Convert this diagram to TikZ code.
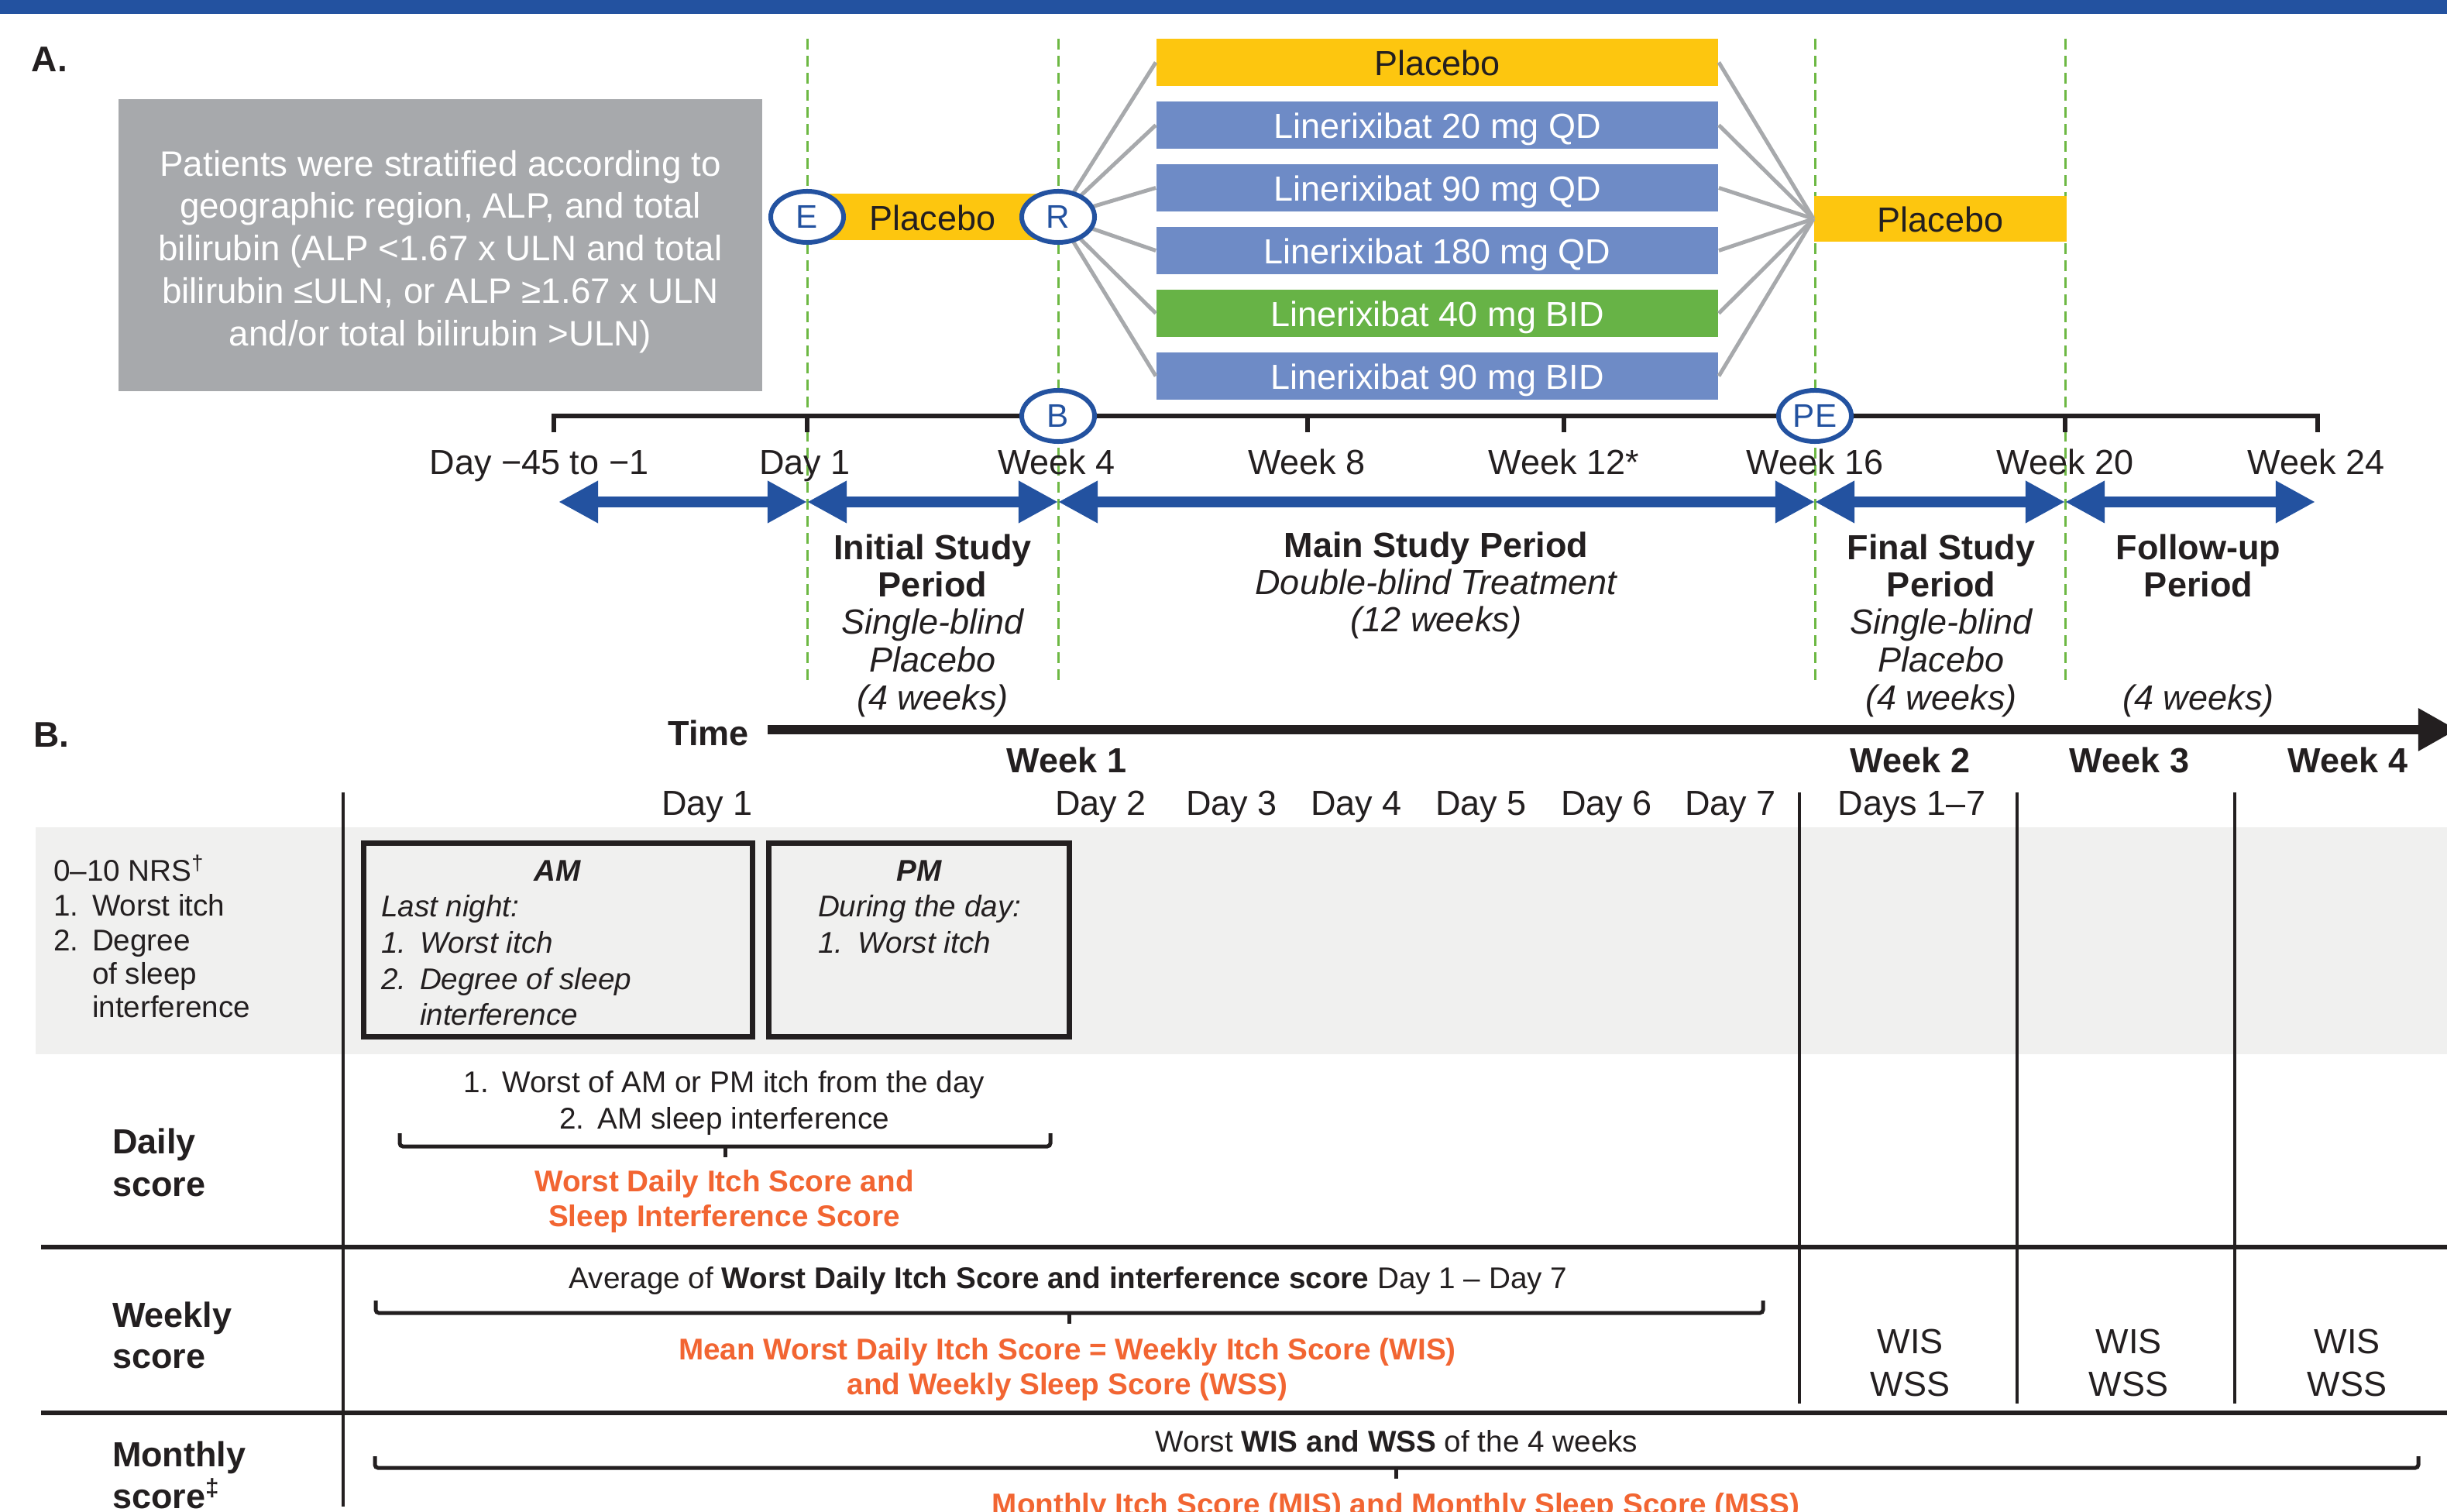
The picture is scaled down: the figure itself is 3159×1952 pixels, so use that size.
\documentclass[tikz,border=0pt]{standalone}
\usepackage{fontspec}
\setmainfont{Liberation Sans}
\usetikzlibrary{arrows.meta,shapes.geometric}
\definecolor{hblue}{HTML}{2352A0}
\definecolor{byel}{HTML}{FDC60F}
\definecolor{bblue}{HTML}{6E8BC6}
\definecolor{bgreen}{HTML}{67B346}
\definecolor{sgray}{HTML}{A7A9AC}
\definecolor{dgreen}{HTML}{6DB843}
\definecolor{bandc}{HTML}{F0F0EF}
\definecolor{orng}{HTML}{F26532}
\definecolor{ink}{HTML}{231F20}
\newcommand\fA{\fontsize{12.8}{15.5}\selectfont}
\newcommand\fG{\fontsize{13.0}{15.6}\selectfont}
\newcommand\fB{\fontsize{11.0}{13.3}\selectfont}
\newcommand\fE{\fontsize{12.0}{14}\selectfont}
\newcommand\fL{\fontsize{13.1}{15}\selectfont}
\tikzset{
  txt/.style={inner sep=0pt, outer sep=0pt, anchor=base, text=ink, font=\fA},
  txtl/.style={txt, anchor=base west},
  btxt/.style={txt, font=\fB},
  btxtl/.style={btxt, anchor=base west},
  bitl/.style={btxtl, font=\fB\itshape},
  hdr/.style={txt, font=\fA\bfseries},
  hdrl/.style={hdr, anchor=base west},
  pbold/.style={txt, font=\fA\bfseries},
  pital/.style={txt, font=\fA\itshape},
  otxt/.style={btxt, text=orng, font=\fB\bfseries},
  armbox/.style={rectangle, minimum width=7.25cm, minimum height=0.6cm, inner sep=0pt, font=\fA, text=white, text height=0.34cm, text depth=0cm},
  visitell/.style={ellipse, draw=hblue, line width=0.06cm, fill=white, minimum width=0.94cm, minimum height=0.66cm, inner sep=0pt, font=\fE, text=hblue},
  connline/.style={draw=sgray, line width=0.05cm},
  vdashline/.style={draw=dgreen, line width=0.03cm, dash pattern=on 0.14cm off 0.08cm},
  periodarrow/.style={draw=hblue, line width=0.13cm, {Triangle[length=0.51cm,width=0.51cm]}-{Triangle[length=0.51cm,width=0.51cm]}},
  axisline/.style={draw=ink, line width=0.06cm},
  hruleline/.style={draw=ink, line width=0.06cm},
  vruleline/.style={draw=ink, line width=0.04cm},
  bracepath/.style={draw=ink, line width=0.05cm, rounded corners=0.04cm},
  ampmbox/.style={rectangle, draw=ink, line width=0.07cm, fill=bandc, inner sep=0pt},
}
\begin{document}
\begin{tikzpicture}[x=0.01cm, y=-0.01cm]
\useasboundingbox (0,0) rectangle (3159,1952);
\clip (0,0) rectangle (3159,1952);
\fill[white] (0,0) rectangle (3159,1952);
\fill[hblue] (0,0) rectangle (3159,18);

%% ---------------- Panel A ----------------
\node[hdrl, font=\fL\bfseries] (labA) at (41,93) {A.};
\node[rectangle, fill=sgray, minimum width=8.31cm, minimum height=3.77cm, inner sep=0pt] (strat) at (568.5,316.5) {};
\node[inner sep=0pt, text=white, font=\fG, align=center] (strattxt) at (568.5,325)
  {Patients were stratified according to\\geographic region, ALP, and total\\bilirubin (ALP <1.67 x ULN and total\\bilirubin ≤ULN, or ALP ≥1.67 x ULN\\and/or total bilirubin >ULN)};

% dashed period boundaries
\foreach \x/\n in {1042/da,1366/db,2343/dc,2666/dd}{
  \coordinate (\n t) at (\x,50);
  \coordinate (\n b) at (\x,883);
  \draw[vdashline] (\n t) -- (\n b);
}

% treatment arms
\node[armbox, fill=byel, text=ink] (arm1) at (1855.5,80.5) {Placebo};
\node[armbox, fill=bblue] (arm2) at (1855.5,161.5) {Linerixibat 20 mg QD};
\node[armbox, fill=bblue] (arm3) at (1855.5,242.5) {Linerixibat 90 mg QD};
\node[armbox, fill=bblue] (arm4) at (1855.5,323.5) {Linerixibat 180 mg QD};
\node[armbox, fill=bgreen] (arm5) at (1855.5,404.5) {Linerixibat 40 mg BID};
\node[armbox, fill=bblue] (arm6) at (1855.5,485.5) {Linerixibat 90 mg BID};
\node[armbox, fill=byel, text=ink, minimum width=3.24cm] (pre) at (1204,280) {Placebo};
\node[armbox, fill=byel, text=ink, minimum width=3.26cm, minimum height=0.59cm] (post) at (2505,282.5) {Placebo};

\coordinate (Rc) at (1366,280);
\foreach \a in {1,...,6}{
  \draw[connline] (Rc) -- (arm\a.west);
  \draw[connline] (arm\a.east) -- (post.west);
}
\node[visitell] (E) at (1042,280) {E};
\node[visitell] (R) at (Rc) {R};

% time axis
\coordinate (ax0) at (715,537);
\coordinate (ax1) at (2992,537);
\draw[axisline] (715,558) -- (ax0) -- (ax1) -- (2992,558);
\foreach \x in {1042,1688,2019,2666} \draw[axisline] (\x,537) -- (\x,558);
\node[visitell] (B) at (1366,537) {B};
\node[visitell] (PE) at (2343,537) {PE};

\node[txt] (l0) at (696,613) {Day −45 to −1};
\node[txt] (l1) at (1039,613) {Day 1};
\node[txt] (l2) at (1364,613) {Week 4};
\node[txt] (l3) at (1687,613) {Week 8};
\node[txt] (l4) at (2019,613) {Week 12*};
\node[txt] (l5) at (2343,613) {Week 16};
\node[txt] (l6) at (2666,613) {Week 20};
\node[txt] (l7) at (2990,613) {Week 24};

% period arrows
\coordinate (p0) at (721,648);
\coordinate (p1) at (1042,648);
\coordinate (p2) at (1366,648);
\coordinate (p3) at (2343,648);
\coordinate (p4) at (2666,648);
\coordinate (p5) at (2989,648);
\draw[periodarrow] (p0) -- (p1);
\draw[periodarrow] (p1) -- (p2);
\draw[periodarrow] (p2) -- (p3);
\draw[periodarrow] (p3) -- (p4);
\draw[periodarrow] (p4) -- (p5);

% period labels
\node[pbold] (i1) at (1204,722) {Initial Study};
\node[pbold] (i2) at (1204,770.5) {Period};
\node[pital] (i3) at (1204,819) {Single-blind};
\node[pital] (i4) at (1204,867.5) {Placebo};
\node[pital] (i5) at (1204,916) {(4 weeks)};

\node[pbold] (m1) at (1854,719) {Main Study Period};
\node[pital] (m2) at (1854,767.5) {Double-blind Treatment};
\node[pital] (m3) at (1854,816) {(12 weeks)};

\node[pbold] (f1) at (2506,722) {Final Study};
\node[pbold] (f2) at (2506,770.5) {Period};
\node[pital] (f3) at (2506,819) {Single-blind};
\node[pital] (f4) at (2506,867.5) {Placebo};
\node[pital] (f5) at (2506,916) {(4 weeks)};

\node[pbold] (u1) at (2838,722) {Follow-up};
\node[pbold] (u2) at (2838,770.5) {Period};
\node[pital] (u3) at (2838,916) {(4 weeks)};

%% ---------------- Panel B ----------------
\node[hdrl, font=\fL\bfseries] (labB) at (43,964) {B.};
\node[hdr, anchor=base east] (time) at (967,962) {Time};
\coordinate (t0) at (991,942);
\coordinate (t1) at (3172,942);
\draw[draw=ink, line width=0.12cm, -{Triangle[length=0.5cm,width=0.52cm]}] (t0) -- (t1);

\node[hdr] (w1) at (1377,997) {Week 1};
\node[hdr] (w2) at (2466,997) {Week 2};
\node[hdr] (w3) at (2749,997) {Week 3};
\node[hdr] (w4) at (3031,997) {Week 4};

\node[txt] (dy1) at (913,1052) {Day 1};
\node[txt] (dy2) at (1421,1052) {Day 2};
\node[txt] (dy3) at (1590,1052) {Day 3};
\node[txt] (dy4) at (1751,1052) {Day 4};
\node[txt] (dy5) at (1912,1052) {Day 5};
\node[txt] (dy6) at (2074,1052) {Day 6};
\node[txt] (dy7) at (2234,1052) {Day 7};
\node[txt] (dy8) at (2468,1052) {Days 1–7};

% shaded NRS band
\fill[bandc] (46,1068) rectangle (3159,1361);

% grid lines
\coordinate (vl0) at (443,1023);
\coordinate (vl1) at (443,1945);
\draw[vruleline] (vl0) -- (vl1);
\foreach \x/\n in {2323/va,2604/vb,2885/vc}{
  \coordinate (\n t) at (\x,1023);
  \coordinate (\n b) at (\x,1812);
  \draw[vruleline] (\n t) -- (\n b);
}
\coordinate (h1a) at (53,1610);
\coordinate (h1b) at (3159,1610);
\coordinate (h2a) at (53,1824);
\coordinate (h2b) at (3159,1824);
\draw[hruleline] (h1a) -- (h1b);
\draw[hruleline] (h2a) -- (h2b);

% NRS row
\node[btxtl] (n0) at (69,1137) {0–10 NRS\textsuperscript{†}};
\node[btxtl] (n1) at (69,1182) {1.};
\node[btxtl] (n1b) at (119,1182) {Worst itch};
\node[btxtl] (n2) at (69,1227) {2.};
\node[btxtl] (n2b) at (119,1227) {Degree};
\node[btxtl] (n3) at (119,1270) {of sleep};
\node[btxtl] (n4) at (119,1313) {interference};

\node[ampmbox, minimum width=5.02cm, minimum height=2.50cm] (am) at (720.5,1213.5) {};
\node[ampmbox, minimum width=3.88cm, minimum height=2.50cm] (pm) at (1186.5,1213.5) {};

\node[btxt, font=\fB\bfseries\itshape] (amh) at (720,1137) {AM};
\node[bitl] (am1) at (492,1183) {Last night:};
\node[bitl] (am2) at (492,1230) {1.};
\node[bitl] (am2b) at (542,1230) {Worst itch};
\node[bitl] (am3) at (492,1277) {2.};
\node[bitl] (am3b) at (542,1277) {Degree of sleep};
\node[bitl] (am4) at (542,1323) {interference};

\node[btxt, font=\fB\bfseries\itshape] (pmh) at (1187,1137) {PM};
\node[bitl] (pm1) at (1056,1183) {During the day:};
\node[bitl] (pm2) at (1056,1230) {1.};
\node[bitl] (pm2b) at (1107,1230) {Worst itch};

% Daily score row
\node[hdrl] (dly1) at (145,1489) {Daily};
\node[hdrl] (dly2) at (145,1544) {score};
\node[btxt] (dt1) at (935,1410) {1.\hspace{0.45em}Worst of AM or PM itch from the day};
\node[btxt] (dt2) at (935,1457) {2.\hspace{0.45em}AM sleep interference};
\draw[bracepath] (516,1463) -- (516,1480) -- (1356,1480) -- (1356,1463);
\coordinate (br1) at (936,1480);
\coordinate (br1t) at (936,1494);
\draw[draw=ink, line width=0.05cm] (br1) -- (br1t);
\node[otxt] (ds1) at (935,1538) {Worst Daily Itch Score and};
\node[otxt] (ds2) at (935,1583) {Sleep Interference Score};

% Weekly score row
\node[hdrl] (wk1) at (145,1713) {Weekly};
\node[hdrl] (wk2) at (145,1766) {score};
\node[btxt] (wt1) at (1379,1663) {Average of \textbf{Worst Daily Itch Score and interference score} Day 1 – Day 7};
\draw[bracepath] (485,1679) -- (485,1695) -- (2276,1695) -- (2276,1679);
\coordinate (br2) at (1380,1695);
\coordinate (br2t) at (1380,1709);
\draw[draw=ink, line width=0.05cm] (br2) -- (br2t);
\node[otxt] (ws1) at (1378,1755) {Mean Worst Daily Itch Score = Weekly Itch Score (WIS)};
\node[otxt] (ws2) at (1378,1800) {and Weekly Sleep Score (WSS)};
\foreach \x/\n in {2466/a,2748/b,3030/c}{
  \node[txt] (wis\n) at (\x,1747) {WIS};
  \node[txt] (wss\n) at (\x,1802) {WSS};
}

% Monthly score row
\node[hdrl] (mo1) at (145,1893) {Monthly};
\node[hdrl] (mo2) at (145,1947) {score\textsuperscript{‡}};
\node[btxt] (mt1) at (1803,1874) {Worst \textbf{WIS and WSS} of the 4 weeks};
\draw[bracepath] (484,1880) -- (484,1895) -- (3122,1895) -- (3122,1880);
\coordinate (br3) at (1802,1895);
\coordinate (br3t) at (1802,1909);
\draw[draw=ink, line width=0.05cm] (br3) -- (br3t);
\node[otxt] (ms1) at (1802,1955) {Monthly Itch Score (MIS) and Monthly Sleep Score (MSS)};
\end{tikzpicture}
\end{document}
